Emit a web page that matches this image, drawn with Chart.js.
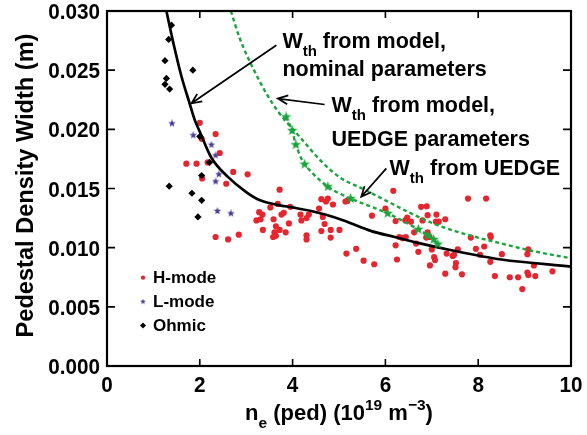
<!DOCTYPE html>
<html><head><meta charset="utf-8">
<script src="https://cdn.jsdelivr.net/npm/chart.js@4.4.1/dist/chart.umd.min.js"></script>
<style>html,body{margin:0;padding:0;background:#fff}#wrap{width:587px;height:435px;position:relative}canvas{display:block}</style>
</head><body><div id="wrap"><canvas id="c" width="587" height="435" style="width:587px;height:435px"></canvas></div>
<script>
// ---------------- DATA ----------------
const xTicks = [0, 2, 4, 6, 8, 10];
const yTicks = [0.000, 0.005, 0.010, 0.015, 0.020, 0.025, 0.030];

const hmodeX = [2.00,2.04,2.34,2.43,1.71,1.93,2.17,2.72,3.03,2.05,2.57,2.34,2.61,2.84,3.22,3.28,3.31,3.35,3.36,3.52,3.59,3.64,3.68,3.72,3.61,3.72,3.85,3.64,3.58,3.76,3.81,3.92,3.95,4.17,4.19,4.30,4.35,4.30,4.30,4.57,4.62,4.76,4.72,4.87,4.65,4.69,4.62,4.82,4.82,5.01,5.14,5.18,5.16,5.37,5.53,5.76,5.71,6.00,6.17,6.22,6.43,6.55,6.47,6.62,6.30,6.37,6.44,6.22,6.25,6.66,6.80,6.77,6.89,6.91,7.10,7.29,7.09,7.15,6.91,6.95,6.88,6.71,7.00,7.05,7.07,6.96,7.29,7.32,7.45,7.48,7.56,7.52,7.51,7.65,7.78,8.17,7.84,7.95,8.04,8.13,8.26,8.27,8.26,8.36,8.51,8.68,8.86,8.95,9.06,9.08,9.08,9.06,9.20,9.23,9.60];
const hmodeY = [0.02055,0.0192,0.0196,0.0180,0.0171,0.0171,0.0172,0.0164,0.0162,0.01585,0.0154,0.0109,0.0107,0.0111,0.0123,0.0130,0.0124,0.0128,0.0115,0.0134,0.0124,0.0118,0.0137,0.0149,0.0113,0.0115,0.0113,0.0110,0.0109,0.0128,0.01295,0.01205,0.01345,0.0128,0.0123,0.0125,0.0128,0.01105,0.0107,0.0133,0.0141,0.01415,0.0139,0.01365,0.0126,0.0120,0.0114,0.0115,0.01085,0.0115,0.0139,0.01395,0.0095,0.0099,0.0089,0.0086,0.0127,0.0133,0.0148,0.01225,0.0123,0.0122,0.01255,0.0113,0.0109,0.0108,0.0109,0.0102,0.0090,0.01035,0.0123,0.01345,0.0135,0.01275,0.0128,0.0124,0.0122,0.0122,0.0113,0.0109,0.01085,0.00965,0.00985,0.0092,0.00895,0.0085,0.0078,0.0095,0.0093,0.0094,0.00985,0.0087,0.00835,0.00775,0.01415,0.01415,0.01085,0.0099,0.0094,0.0101,0.01105,0.0109,0.0088,0.0076,0.00945,0.0075,0.0075,0.0065,0.0079,0.0077,0.00985,0.00945,0.0085,0.0076,0.0080];

const lmodeX = [1.40,1.86,2.25,2.34,2.41,2.34,2.38,2.67];
const lmodeY = [0.0205,0.0195,0.0187,0.0178,0.0162,0.0156,0.0131,0.0129];

const ohmicX = [1.39,1.33,1.25,1.85,1.28,1.25,1.35,2.00,2.21,2.04,1.34,1.83,2.04,1.96];
const ohmicY = [0.0288,0.0276,0.0258,0.0250,0.0243,0.0238,0.0234,0.0194,0.0172,0.0161,0.0152,0.0146,0.0140,0.0126];

const nominalX = [1.28,1.43,1.61,1.78,1.89,2.00,2.25,2.60,3.00,3.30,3.70,4.00,4.40,4.70,5.10,5.70,6.20,6.70,7.40,8.50,10.00];
const nominalY = [0.0300,0.0273,0.0244,0.0222,0.0208,0.0198,0.0176,0.0160,0.0147,0.0140,0.0136,0.0134,0.0131,0.0128,0.0123,0.0114,0.0109,0.0104,0.0098,0.0090,0.0084];

const uedgeParX = [2.67,2.86,3.18,3.47,3.68,4.19,4.62,5.03,5.50,6.00,6.50,7.00,7.50,8.45,9.20,10.00];
const uedgeParY = [0.0300,0.0277,0.0249,0.0228,0.02155,0.0192,0.0173,0.0159,0.0150,0.0140,0.0130,0.0121,0.0114,0.0104,0.0097,0.0091];

const uedgeX = [3.86,3.99,4.07,4.26,4.76,5.25,6.05,6.71,6.91,7.04,7.13];
const uedgeY = [0.02105,0.0199,0.0187,0.01705,0.01515,0.01415,0.0129,0.01155,0.01105,0.0107,0.0103];

// ---------------- STYLE ----------------
const RED = '#e5262f', PURPLE = '#473c95', GREEN = '#19a53b', BLACK = '#000';
const FONT = '"Liberation Sans", Arial, Helvetica, sans-serif';

function pts(xs, ys){ return xs.map((x,i)=>({x:x, y:ys[i]})); }

function starCanvas(size, color){
  const c = document.createElement('canvas');
  c.width = size; c.height = size;
  const g = c.getContext('2d');
  const cx = size/2, cy = size/2, R = size/2, r = R*0.42;
  g.beginPath();
  for(let i=0;i<10;i++){
    const rad = i%2===0 ? R : r;
    const a = -Math.PI/2 + i*Math.PI/5;
    const px = cx + rad*Math.cos(a), py = cy + rad*Math.sin(a);
    if(i===0) g.moveTo(px,py); else g.lineTo(px,py);
  }
  g.closePath(); g.fillStyle = color; g.fill();
  return c;
}
const purpleStar = starCanvas(8, PURPLE);
const greenStar = starCanvas(11, GREEN);
const purpleStarSmall = starCanvas(6, PURPLE);

// annotations (in data coordinates)
const arrowDefs = [
  {from:[3.65,0.0271], to:[1.82,0.0222]},
  {from:[4.69,0.0221], to:[3.68,0.0226]},
  {from:[6.02,0.0167], to:[5.48,0.0143]}
];
const labelDefs = [
  {x:3.78, y:0.02686, parts:[{t:'W'},{t:'th',sub:true},{t:' from model,'}]},
  {x:3.78, y:0.02450, parts:[{t:'nominal parameters'}]},
  {x:4.84, y:0.02145, parts:[{t:'W'},{t:'th',sub:true},{t:' from model,'}]},
  {x:4.84, y:0.01858, parts:[{t:'UEDGE parameters'}]},
  {x:6.09, y:0.01613, parts:[{t:'W'},{t:'th',sub:true},{t:' from UEDGE'}]}
];

function drawRich(ctx, x, y, parts, size, subSize, subOff, supOff, align){
  let w = 0;
  parts.forEach(p=>{
    ctx.font = 'bold ' + ((p.sub||p.sup)?subSize:size) + 'px ' + FONT;
    p.w = ctx.measureText(p.t).width; w += p.w;
  });
  let cx = align==='center' ? x - w/2 : x;
  parts.forEach(p=>{
    ctx.font = 'bold ' + ((p.sub||p.sup)?subSize:size) + 'px ' + FONT;
    const dy = p.sub ? subOff : (p.sup ? -supOff : 0);
    ctx.fillText(p.t, cx, y + dy);
    cx += p.w;
  });
}

const decor = {
  id:'decor',
  afterDraw(chart){
    const {ctx, chartArea:a, scales:{x, y}} = chart;
    ctx.save();
    // frame
    ctx.strokeStyle = BLACK; ctx.lineWidth = 2.2;
    ctx.strokeRect(a.left, a.top, a.right-a.left, a.bottom-a.top);
    // inward ticks
    ctx.lineWidth = 1.6;
    ctx.beginPath();
    x.ticks.forEach(t=>{
      if(t.value<=x.min || t.value>=x.max) return;
      const p = x.getPixelForValue(t.value);
      ctx.moveTo(p, a.bottom); ctx.lineTo(p, a.bottom-7);
      ctx.moveTo(p, a.top); ctx.lineTo(p, a.top+7);
    });
    y.ticks.forEach(t=>{
      if(t.value<=y.min+1e-9 || t.value>=y.max-1e-9) return;
      const p = y.getPixelForValue(t.value);
      ctx.moveTo(a.left, p); ctx.lineTo(a.left+8, p);
      ctx.moveTo(a.right, p); ctx.lineTo(a.right-8, p);
    });
    ctx.stroke();

    // tick labels (condensed, from the scales' ticks)
    ctx.fillStyle = BLACK;
    ctx.font = 'bold 22.5px ' + FONT;
    ctx.textBaseline = 'alphabetic';
    y.ticks.forEach(t=>{
      const p = y.getPixelForValue(t.value);
      ctx.save(); ctx.translate(a.left - 7, p + 8); ctx.scale(0.92, 1);
      ctx.textAlign = 'right'; ctx.fillText(Number(t.value).toFixed(3), 0, 0); ctx.restore();
    });
    x.ticks.forEach(t=>{
      const p = x.getPixelForValue(t.value);
      ctx.save(); ctx.translate(p, a.bottom + 26); ctx.scale(0.92, 1);
      ctx.textAlign = 'center'; ctx.fillText(String(t.value), 0, 0); ctx.restore();
    });

    // arrows
    ctx.lineWidth = 1.7; ctx.strokeStyle = BLACK;
    arrowDefs.forEach(ad=>{
      const x1 = x.getPixelForValue(ad.from[0]), y1 = y.getPixelForValue(ad.from[1]);
      const x2 = x.getPixelForValue(ad.to[0]), y2 = y.getPixelForValue(ad.to[1]);
      const ang = Math.atan2(y2-y1, x2-x1);
      const L = 11, spread = 0.42;
      ctx.beginPath();
      ctx.moveTo(x1,y1); ctx.lineTo(x2,y2);
      ctx.moveTo(x2 - L*Math.cos(ang-spread), y2 - L*Math.sin(ang-spread));
      ctx.lineTo(x2,y2);
      ctx.lineTo(x2 - L*Math.cos(ang+spread), y2 - L*Math.sin(ang+spread));
      ctx.stroke();
    });

    // labels
    ctx.fillStyle = BLACK; ctx.textBaseline = 'alphabetic'; ctx.textAlign = 'left';
    labelDefs.forEach(ld=>{
      drawRich(ctx, x.getPixelForValue(ld.x), y.getPixelForValue(ld.y), ld.parts, 21.5, 15, 8, 0, 'left');
    });

    // axis titles
    const xc = (a.left + a.right)/2;
    drawRich(ctx, xc, 420, [{t:'n'},{t:'e',sub:true},{t:' (ped) (10'},{t:'19',sup:true},{t:' m'},{t:'\u22123',sup:true},{t:')'}], 22, 15.5, 8, 10, 'center');
    ctx.save();
    ctx.translate(33, (a.top + a.bottom)/2 - 3);
    ctx.rotate(-Math.PI/2);
    ctx.textAlign = 'center';
    ctx.font = 'bold 23.6px ' + FONT;
    ctx.fillText('Pedestal Density Width (m)', 0, 0);
    ctx.restore();

    // legend
    const legend = [
      {label:'H-mode', ds:0}, {label:'L-mode', ds:1}, {label:'Ohmic', ds:2}
    ];
    const lx = a.left + 36, ly0 = y.getPixelForValue(0.0073) - 2, dy = 24;
    ctx.font = 'bold 17px ' + FONT; ctx.textBaseline = 'middle'; ctx.textAlign='left';
    legend.forEach((l,i)=>{
      const yy = ly0 + i*dy;
      const ds = chart.data.datasets[l.ds];
      ctx.save();
      if(l.ds===0){ ctx.fillStyle = ds.backgroundColor; ctx.beginPath(); ctx.arc(lx, yy, 2.2, 0, Math.PI*2); ctx.fill(); }
      else if(l.ds===1){ ctx.drawImage(purpleStarSmall, lx-3, yy-3); }
      else { ctx.fillStyle = BLACK; ctx.beginPath(); ctx.moveTo(lx, yy-3); ctx.lineTo(lx+3, yy); ctx.lineTo(lx, yy+3); ctx.lineTo(lx-3, yy); ctx.closePath(); ctx.fill(); }
      ctx.restore();
      ctx.fillStyle = BLACK;
      ctx.fillText(l.label, lx + 10, yy + 1);
    });
    ctx.restore();
  }
};

new Chart(document.getElementById('c'), {
  type: 'scatter',
  data: {
    datasets: [
      {label:'H-mode', data: pts(hmodeX, hmodeY), pointStyle:'circle', radius:3.1, backgroundColor:RED, borderWidth:0, order:5},
      {label:'L-mode', data: pts(lmodeX, lmodeY), pointStyle:purpleStar, backgroundColor:PURPLE, order:4},
      {label:'Ohmic', data: pts(ohmicX, ohmicY), pointStyle:'rectRot', radius:3.6, backgroundColor:BLACK, borderWidth:0, order:3},
      {label:'nominal', type:'line', data: pts(nominalX, nominalY), borderColor:BLACK, borderWidth:2.7, pointRadius:0, cubicInterpolationMode:'monotone', fill:false, order:1},
      {label:'uedgePar', type:'line', data: pts(uedgeParX, uedgeParY), borderColor:GREEN, borderWidth:2.4, borderDash:[4,3], pointRadius:0, cubicInterpolationMode:'monotone', fill:false, order:2},
      {label:'uedge', type:'line', data: pts(uedgeX, uedgeY), borderColor:GREEN, borderWidth:2.4, borderDash:[4,3], pointStyle:greenStar, pointRadius:5, backgroundColor:GREEN, tension:0.3, fill:false, order:0}
    ]
  },
  options: {
    responsive: false,
    animation: false,
    devicePixelRatio: 1,
    layout: {padding: {top: 11, right: 16, left: 0, bottom: 0}},
    plugins: {legend: {display:false}, tooltip: {enabled:false}},
    scales: {
      x: {
        type:'linear', min:0, max:10,
        afterBuildTicks: s => { s.ticks = xTicks.map(v=>({value:v})); },
        afterFit: s => { s.height = 69; },
        grid: {display:false, drawTicks:false},
        border: {display:false},
        ticks: {display:false}
      },
      y: {
        type:'linear', min:0, max:0.03,
        afterBuildTicks: s => { s.ticks = yTicks.map(v=>({value:v})); },
        afterFit: s => { s.width = 107; },
        grid: {display:false, drawTicks:false},
        border: {display:false},
        ticks: {display:false}
      }
    }
  },
  plugins: [decor]
});
</script>
</body></html>
